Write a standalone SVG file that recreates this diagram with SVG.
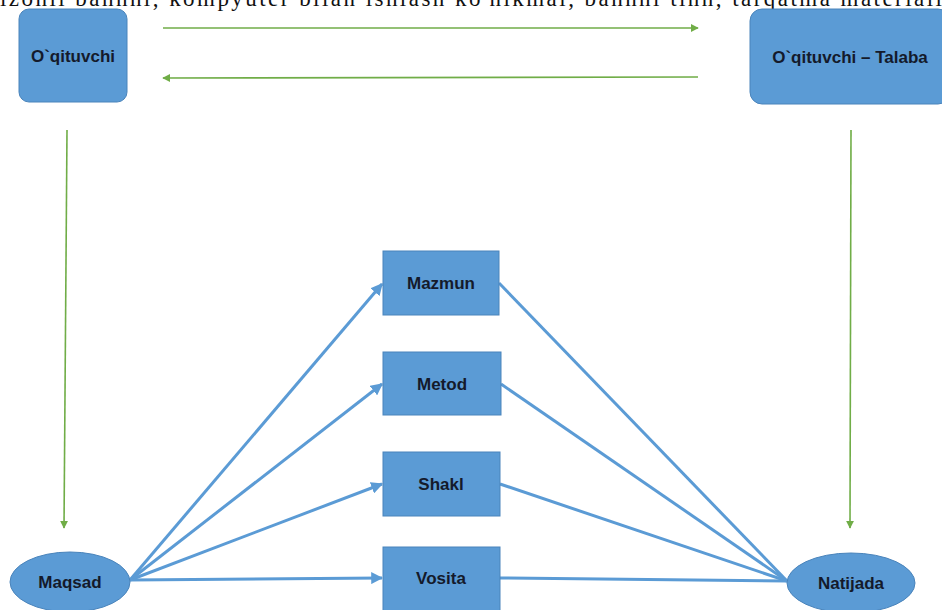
<svg xmlns="http://www.w3.org/2000/svg" width="942" height="610" viewBox="0 0 942 610">
<style>
.box{fill:#5b9bd5;stroke:#4a84bb;stroke-width:1}
.lbl{font-family:"Liberation Sans",Arial,sans-serif;font-weight:bold;font-size:17px;fill:#141a2b;text-anchor:middle;dominant-baseline:central}
.g{stroke:#70ad47;stroke-width:1.6;fill:none;marker-end:url(#ga)}
.b{stroke:#5b9bd5;stroke-width:3;fill:none}
.ba{marker-end:url(#ba)}
</style>
<defs>
<marker id="ga" viewBox="0 0 10 10" refX="9" refY="5" markerWidth="5" markerHeight="5" orient="auto" markerUnits="strokeWidth"><path d="M0,0 L10,5 L0,10 z" fill="#70ad47"/></marker>
<marker id="ba" viewBox="0 0 10 10" refX="9" refY="5" markerWidth="4" markerHeight="4" orient="auto" markerUnits="strokeWidth"><path d="M0,0 L10,5 L0,10 z" fill="#5b9bd5"/></marker>
</defs>
<rect width="942" height="610" fill="#fff"/>
<text x="0" y="6" font-family="'Liberation Serif','Times New Roman',serif" font-size="23" fill="#111" textLength="942" lengthAdjust="spacing">izohli bahnni, kompyuter bilan ishlash ko'nikmai, bahnni tinn, tarqatma materiali</text>
<g id="connectors">
<line class="g" x1="163" y1="28" x2="698" y2="28"/>
<line class="g" x1="698" y1="77" x2="163" y2="78"/>
<line class="g" x1="67" y1="130" x2="64" y2="528"/>
<line class="g" x1="851" y1="130" x2="850" y2="528"/>
<line class="b ba" x1="130" y1="580" x2="382" y2="284"/>
<line class="b ba" x1="130" y1="580" x2="382" y2="384"/>
<line class="b ba" x1="130" y1="580" x2="382" y2="484"/>
<line class="b ba" x1="130" y1="580" x2="382" y2="578"/>
<line class="b" x1="499" y1="283" x2="787" y2="581"/>
<line class="b" x1="501" y1="384" x2="787" y2="581"/>
<line class="b" x1="500" y1="484" x2="787" y2="581"/>
<line class="b" x1="500" y1="578" x2="787" y2="581"/>
</g>
<g id="oqituvchi"><rect class="box" x="19" y="9" width="108" height="93" rx="10"/><text class="lbl" x="73" y="56">O`qituvchi</text></g>
<g id="oqituvchi-talaba"><rect class="box" x="750" y="9" width="200" height="95" rx="12"/><text class="lbl" x="850" y="57">O`qituvchi – Talaba</text></g>
<g id="mazmun"><rect class="box" x="383" y="251" width="116" height="64"/><text class="lbl" x="441" y="283">Mazmun</text></g>
<g id="metod"><rect class="box" x="383" y="352" width="118" height="63"/><text class="lbl" x="442" y="384">Metod</text></g>
<g id="shakl"><rect class="box" x="383" y="452" width="117" height="64"/><text class="lbl" x="441" y="484">Shakl</text></g>
<g id="vosita"><rect class="box" x="383" y="547" width="117" height="66"/><text class="lbl" x="441" y="578">Vosita</text></g>
<g id="maqsad"><ellipse class="box" cx="70" cy="582" rx="60" ry="30"/><text class="lbl" x="70" y="582">Maqsad</text></g>
<g id="natijada"><ellipse class="box" cx="851" cy="583" rx="64" ry="30"/><text class="lbl" x="851" y="583">Natijada</text></g>
</svg>
